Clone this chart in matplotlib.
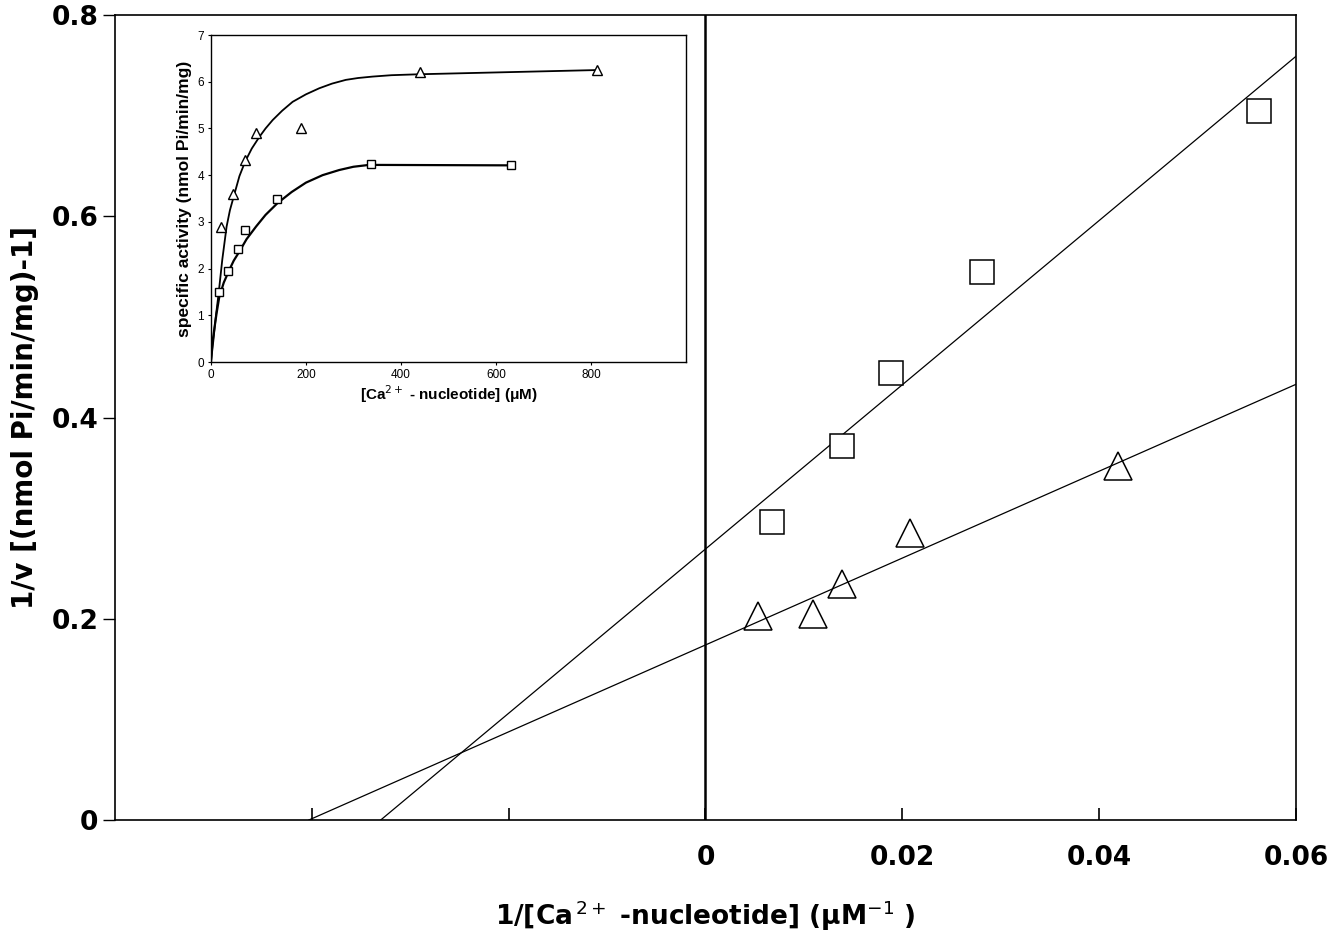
import numpy as np
import matplotlib
matplotlib.use('Agg')
import matplotlib.pyplot as plt

plt.rcParams['font.family'] = ['Liberation Sans', 'DejaVu Sans']

# ---- main plot (Lineweaver-Burk) ----
sq_x = [0.0068, 0.0139, 0.0189, 0.0281, 0.0562]
sq_y = [0.296, 0.372, 0.444, 0.545, 0.705]
tri_x = [0.0053, 0.0109, 0.0139, 0.0208, 0.0419]
tri_y = [0.203, 0.205, 0.235, 0.285, 0.352]

# fitted lines, read as end points (x-axis crossing -> right edge)
sq_line_x = [-0.0330, 0.06]
sq_line_y = [0.0, 0.759]
tri_line_x = [-0.0403, 0.06]
tri_line_y = [0.0, 0.433]

xticks = [-0.04, -0.02, 0, 0.02, 0.04, 0.06]
xticklabels = ['', '', '0', '0.02', '0.04', '0.06']
yticks = [0, 0.2, 0.4, 0.6, 0.8]
yticklabels = ['0', '0.2', '0.4', '0.6', '0.8']

# ---- inset (saturation curves) ----
in_tri_x = [22, 47, 71, 95, 189, 440, 812]
in_tri_y = [2.9, 3.59, 4.33, 4.9, 5.01, 6.2, 6.25]
in_sq_x = [17, 35, 56, 71, 140, 337, 632]
in_sq_y = [1.5, 1.95, 2.41, 2.83, 3.49, 4.23, 4.21]

# drawn curves, points
curve_tri_x = [0, 5, 10, 16, 24, 33, 40, 49, 60, 72, 86, 102, 115, 130, 150, 172,
               200, 228, 255, 284, 310, 340, 380, 438, 812]
curve_tri_y = [0, 0.45, 0.95, 1.45, 2.2, 2.9, 3.25, 3.58, 3.98, 4.29, 4.57, 4.82,
               5.0, 5.18, 5.38, 5.57, 5.73, 5.86, 5.96, 6.04, 6.08, 6.11, 6.14, 6.16, 6.25]
curve_sq_x = [0, 3, 7, 12, 17.5, 27, 38.6, 48, 59.6, 75, 95, 115, 140, 170, 200,
              235, 270, 300, 333, 632]
curve_sq_y = [0, 0.4, 0.7, 1.05, 1.39, 1.7, 1.97, 2.17, 2.36, 2.63, 2.9, 3.15,
              3.4, 3.64, 3.84, 4.0, 4.11, 4.18, 4.22, 4.21]

MAIN_FONT = ['DejaVu Sans']

fig = plt.figure(figsize=(13.35, 9.49), dpi=100)
ax = fig.add_axes([0.0861, 0.1359, 0.8847, 0.8483])

ax.plot(sq_line_x, sq_line_y, color='black', lw=0.9)
ax.plot(tri_line_x, tri_line_y, color='black', lw=0.9)
ax.plot(sq_x, sq_y, linestyle='none', marker='s', markersize=17,
        markerfacecolor='white', markeredgecolor='black', markeredgewidth=1.1)
ax.plot(tri_x, tri_y, linestyle='none', marker='^', markersize=20,
        markerfacecolor='none', markeredgecolor='black', markeredgewidth=1.1)
ax.axvline(0, color='black', lw=1.8)

ax.set_xlim(-0.06, 0.06)
ax.set_ylim(0, 0.8)
ax.set_xticks(xticks)
ax.set_xticklabels(xticklabels)
ax.set_yticks(yticks)
ax.set_yticklabels(yticklabels)
ax.tick_params(axis='x', direction='in', length=9, width=1.2, pad=18,
               labelsize=19)
ax.tick_params(axis='y', direction='out', length=9, width=1.0, pad=3,
               labelsize=19)
for lab in ax.get_xticklabels() + ax.get_yticklabels():
    lab.set_fontweight('bold')
    lab.set_family(MAIN_FONT)
for s in ax.spines.values():
    s.set_linewidth(1.2)

ax.set_xlabel('1/[Ca$^{\\,2+}$ -nucleotide] (\u03bcM$^{-1}$ )',
              fontsize=19, fontweight='bold', labelpad=20, family=MAIN_FONT)
ax.set_ylabel('1/v [(nmol Pi/min/mg)-1]', fontsize=20, fontweight='bold',
              labelpad=9, family=MAIN_FONT)

# ---- inset ----
ins = fig.add_axes([0.158, 0.6185, 0.3558, 0.3446])
ins.plot(curve_tri_x, curve_tri_y, color='black', lw=1.3)
ins.plot(curve_sq_x, curve_sq_y, color='black', lw=1.6)
ins.plot(in_tri_x, in_tri_y, linestyle='none', marker='^', markersize=6.5,
         markerfacecolor='white', markeredgecolor='black', markeredgewidth=1.0)
ins.plot(in_sq_x, in_sq_y, linestyle='none', marker='s', markersize=6,
         markerfacecolor='white', markeredgecolor='black', markeredgewidth=1.0)
ins.set_xlim(0, 1000)
ins.set_ylim(0, 7)
ins.set_xticks([0, 200, 400, 600, 800])
ins.set_yticks(range(8))
ins.tick_params(axis='both', direction='out', length=2, width=0.8,
                labelsize=8.5, pad=3)
for s in ins.spines.values():
    s.set_linewidth(1.0)
ins.set_xlabel('[Ca$^{2+}$ - nucleotide] (\u03bcM)', fontsize=11,
               fontweight='bold', labelpad=2)
ins.set_ylabel('specific activity (nmol Pi/min/mg)', fontsize=12.5,
               fontweight='bold', labelpad=4)

fig.savefig('out.png', dpi=100)
